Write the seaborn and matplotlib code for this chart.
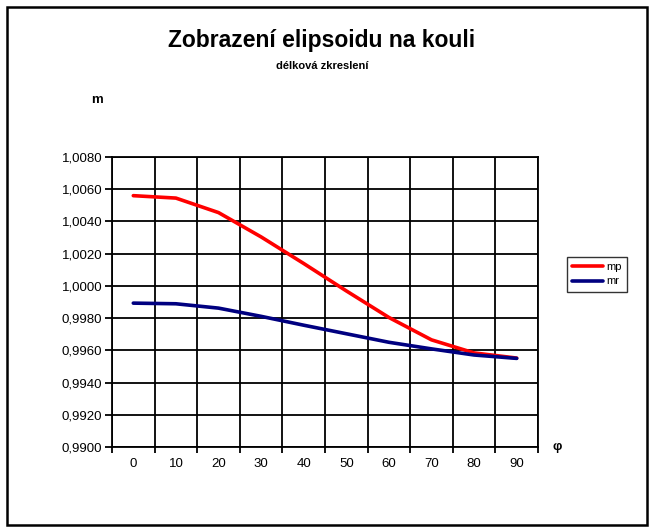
import numpy as np
import pandas as pd
import seaborn as sns
import matplotlib.pyplot as plt
from matplotlib.patches import Rectangle
from matplotlib.ticker import FixedLocator, FuncFormatter

sns.set_style("white")
plt.rcParams['font.family'] = ['Liberation Sans', 'DejaVu Sans']
plt.rcParams['text.color'] = 'black'
plt.rcParams['xtick.color'] = 'black'
plt.rcParams['ytick.color'] = 'black'

# data
phi = [0, 10, 20, 30, 40, 50, 60, 70, 80, 90]
mp = [1.0056, 1.00545, 1.00455, 1.00304, 1.00139, 0.99969, 0.99804, 0.99665, 0.99584, 0.99552]
mr = [0.99893, 0.99889, 0.99862, 0.99811, 0.99756, 0.99703, 0.99650, 0.99609, 0.99571, 0.99550]

df = pd.DataFrame({'phi': phi * 2, 'm': mp + mr, 'serie': ['mp'] * len(phi) + ['mr'] * len(phi)})

fig = plt.figure(figsize=(6.54, 5.32), dpi=100)
ax = fig.add_axes([112 / 654, 1 - 447 / 532, 426 / 654, 290 / 532])

sns.lineplot(data=df, x='phi', y='m', hue='serie', palette={'mp': '#ff0000', 'mr': '#000080'},
             linewidth=2.6, ax=ax, legend=False)

ax.set_xlim(-5, 95)
ax.set_ylim(0.990, 1.008)
ax.xaxis.set_major_locator(FixedLocator(np.arange(-5, 96, 10)))
ax.xaxis.set_minor_locator(FixedLocator(phi))
ax.xaxis.set_major_formatter(FuncFormatter(lambda v, p: ''))
ax.xaxis.set_minor_formatter(FuncFormatter(lambda v, p: f'{v:.0f}'))
ax.set_yticks(np.arange(0.990, 1.0081, 0.002))
ax.yaxis.set_major_formatter(FuncFormatter(lambda v, p: f'{v:.4f}'.replace('.', ',')))
ax.tick_params(axis='x', which='major', length=4, width=1.3, direction='out', bottom=True)
ax.tick_params(axis='x', which='minor', length=0, labelsize=9.5, pad=8)
ax.tick_params(axis='y', length=5, width=1.3, direction='out', left=True, labelsize=9.5, pad=2)
ax.grid(True, which='major', color='black', linewidth=1.3)
for s in ax.spines.values():
    s.set_color('black')
    s.set_linewidth(1.3)
ax.set_xlabel('')
ax.set_ylabel('')

fig.text(322 / 654, 1 - 40 / 532, 'Zobrazení elipsoidu na kouli', ha='center', va='center',
         fontsize=16.5, fontweight='bold')
fig.text(322 / 654, 1 - 66 / 532, 'délková zkreslení', ha='center', va='center',
         fontsize=8, fontweight='bold')
fig.text(97 / 654, 1 - 100 / 532, 'm', ha='center', va='center', fontsize=9.5, fontweight='bold')
fig.text(557 / 654, 1 - 447 / 532, 'φ', ha='center', va='center', fontsize=9.5, fontweight='bold')

ax.plot([], [], color='#ff0000', linewidth=2.6, label='mp')
ax.plot([], [], color='#000080', linewidth=2.6, label='mr')
leg = fig.legend(loc='center left', bbox_to_anchor=(561 / 654, 1 - 274 / 532), frameon=True,
                 fontsize=8, handlelength=2.8, handletextpad=0.3, borderpad=0.45,
                 labelspacing=0.45, fancybox=False, edgecolor='black')
leg.get_frame().set_linewidth(1.0)

fig.patches.append(Rectangle((7 / 654, 7 / 532), 640 / 654, 518 / 532, transform=fig.transFigure,
                             fill=False, edgecolor='black', linewidth=1.8))

fig.savefig('out.png', dpi=100)
